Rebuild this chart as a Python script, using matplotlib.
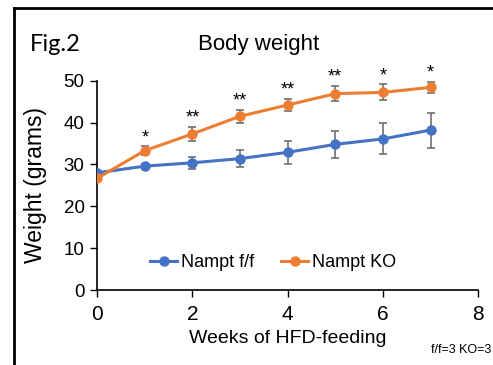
import matplotlib
matplotlib.use("Agg")
import matplotlib.pyplot as plt
from matplotlib.lines import Line2D

plt.rcParams['font.family'] = ['Liberation Sans', 'DejaVu Sans']

weeks = [0, 1, 2, 3, 4, 5, 6, 7]
ff_mean = [28.0, 29.6, 30.4, 31.4, 32.9, 34.8, 36.1, 38.2]
ff_err = [0.4, 0.6, 1.4, 2.0, 2.8, 3.3, 3.7, 4.2]
ko_mean = [26.7, 33.3, 37.3, 41.5, 44.2, 46.9, 47.2, 48.4]
ko_err = [0.4, 1.0, 1.6, 1.6, 1.5, 1.8, 1.9, 1.4]
stars = ["", "*", "**", "**", "**", "**", "*", "*"]
xticks = [0, 2, 4, 6, 8]
yticks = [0, 10, 20, 30, 40, 50]

blue = "#4472C4"
orange = "#ED7D31"

fig = plt.figure(figsize=(4.93, 3.65), dpi=100)
ax = fig.add_axes([0.197, 0.205, 0.773, 0.574])

ax.errorbar(weeks, ff_mean, yerr=ff_err, color=blue, ecolor="#6f6f6f",
            elinewidth=1.2, capsize=3, capthick=1.2, lw=2.2, marker="o", ms=6.5,
            label="Nampt f/f", zorder=3)
ax.errorbar(weeks, ko_mean, yerr=ko_err, color=orange, ecolor="#6f6f6f",
            elinewidth=1.2, capsize=3, capthick=1.2, lw=2.2, marker="o", ms=6.5,
            label="Nampt KO", zorder=4)

for x, m, e, s in zip(weeks, ko_mean, ko_err, stars):
    if s:
        ax.text(x, m + e + 0.1, s, ha="center", va="bottom", fontsize=13)

ax.set_xlim(0, 8)
ax.set_ylim(0, 50)
ax.set_xticks(xticks)
ax.set_yticks(yticks)
ax.tick_params(axis="x", labelsize=15, direction="out", length=5, width=1, pad=6)
ax.tick_params(axis="y", labelsize=13.5, direction="out", length=5, width=1, pad=4)
for side in ["top", "right"]:
    ax.spines[side].set_visible(False)
for side in ["left", "bottom"]:
    ax.spines[side].set_linewidth(1.2)
ax.set_ylabel("Weight (grams)", fontsize=16.5, labelpad=12)
ax.set_xlabel("Weeks of HFD-feeding", fontsize=14, labelpad=4)

handles = [Line2D([], [], color=blue, lw=2.2, marker="o", ms=6.5),
           Line2D([], [], color=orange, lw=2.2, marker="o", ms=6.5)]
ax.legend(handles, ["Nampt f/f", "Nampt KO"], loc="center", bbox_to_anchor=(0.462, 0.13),
          ncol=2, frameon=False, fontsize=13, handlelength=1.5, handletextpad=0.2,
          columnspacing=1.5)

fig.text(0.525, 0.877, "Body weight", ha="center", va="center", fontsize=16)
fig.text(0.06, 0.877, "Fig.2", ha="left", va="center", fontsize=17, family=["Lato", "DejaVu Sans"])
fig.text(0.997, 0.04, "f/f=3 KO=3", ha="right", va="center", fontsize=9)

# image border (left and top)
fig.add_artist(Line2D([0.028, 0.028], [0.0, 0.977], transform=fig.transFigure, color="black", lw=2))
fig.add_artist(Line2D([0.028, 1.0], [0.977, 0.977], transform=fig.transFigure, color="black", lw=2))

fig.savefig("out.png", dpi=100)
